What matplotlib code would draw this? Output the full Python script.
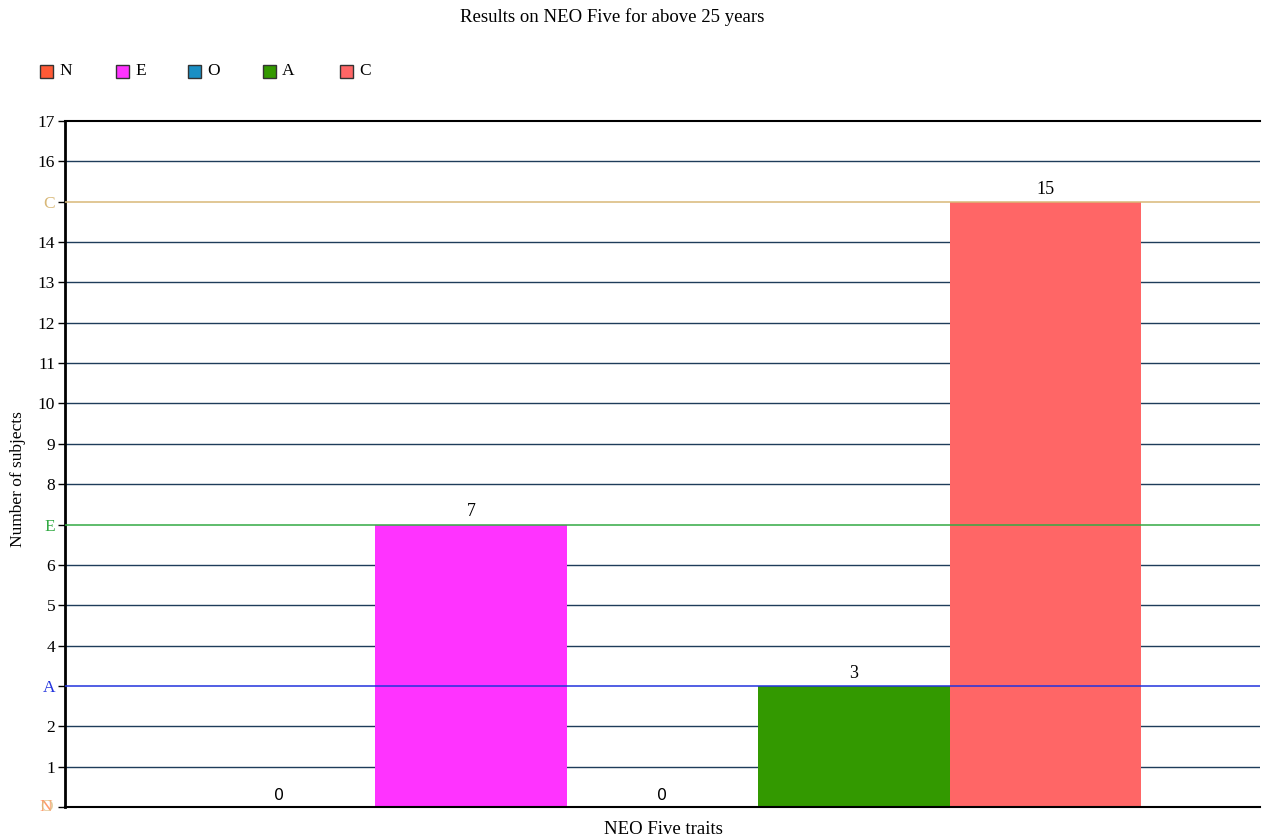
import matplotlib.pyplot as plt
from matplotlib.patches import Rectangle

traits = ["N", "E", "O", "A", "C"]
counts = [0, 7, 0, 3, 15]
colors = ["#ff5a36", "#ff33ff", "#1a8fc4", "#339900", "#ff6666"]
# horizontal marker lines labelled on the y axis
ref_colors = {"N": "#ff7a3a", "E": "#33aa44", "O": "#d8b878", "A": "#2233dd", "C": "#d8b878"}
y_ticks = list(range(0, 18))

plt.rcParams["font.family"] = ["Liberation Serif", "DejaVu Serif"]

fig = plt.figure(figsize=(12.62, 8.4), dpi=100)
ax = fig.add_axes([65 / 1262, 1 - 807 / 840, 1195 / 1262, (807 - 121) / 840])

x = list(range(len(traits)))
ax.bar(x, counts, width=1.0, color=colors, zorder=2)

# grid lines
for t in y_ticks[1:-1]:
    if t not in counts:
        ax.axhline(t, color="#1e3c5a", lw=1, zorder=1)
for t, c in zip(traits, counts):
    if c > 0:
        ax.axhline(c, color=ref_colors[t], lw=1.1, zorder=3)

for xi, v in zip(x, counts):
    if v == 0:
        ax.text(xi, v + 0.1, str(v), ha="center", va="bottom", fontsize=11.5,
                family="DejaVu Sans", zorder=4)
    else:
        ax.text(xi, v + 0.1, str(v), ha="center", va="bottom", fontsize=13, zorder=4)

ax.set_xlim(-1.12, -1.12 + 1195 / 191.5)
ax.set_ylim(0, 17)
ax.set_xticks([])
ax.set_yticks(y_ticks)
labels = []
for t in y_ticks:
    lab = str(t)
    for tr, c in zip(traits, counts):
        if c == t and (c > 0):
            lab = tr
    labels.append(lab if t != 0 else "")
ax.set_yticklabels(labels, fontsize=12.5)
for lab, t in zip(ax.get_yticklabels(), y_ticks):
    for tr, c in zip(traits, counts):
        if c == t and c > 0:
            lab.set_color(ref_colors[tr])
# zero-valued traits overlap at the bottom
for tr, c in zip(traits, counts):
    if c == 0:
        ax.annotate(tr, (0, 0), xycoords=ax.get_yaxis_transform(), xytext=(-9, 0),
                    textcoords="offset points", ha="right", va="center",
                    fontsize=12.5, color=ref_colors[tr], alpha=0.75)
ax.tick_params(axis="y", length=5, width=1, pad=2)

for s in ["left", "bottom", "top"]:
    ax.spines[s].set_color("black")
ax.spines["left"].set_linewidth(2)
ax.spines["bottom"].set_linewidth(1.5)
ax.spines["top"].set_linewidth(1.5)
ax.spines["right"].set_visible(False)

fig.text(612 / 1262, 1 - 17 / 840, "Results on NEO Five for above 25 years", ha="center",
         va="center", fontsize=13.5)
fig.text(663 / 1262, 1 - 830 / 840, "NEO Five traits", ha="center", va="center",
         fontsize=13.5)
fig.text(18 / 1262, 1 - 479 / 840, "Number of subjects", ha="center", va="center",
         rotation=90, fontsize=12.5)

# legend
leg_x = [40, 116, 188, 263, 340]
for px, tr, col in zip(leg_x, traits, colors):
    fig.patches.append(Rectangle((px / 1262, 1 - 78 / 840), 13 / 1262, 13 / 840,
                                 transform=fig.transFigure, facecolor=col,
                                 edgecolor="#333333", lw=1))
    fig.text((px + 19) / 1262, 1 - 71 / 840, tr, ha="left", va="center", fontsize=12.5)

fig.savefig("out.png", dpi=100)
